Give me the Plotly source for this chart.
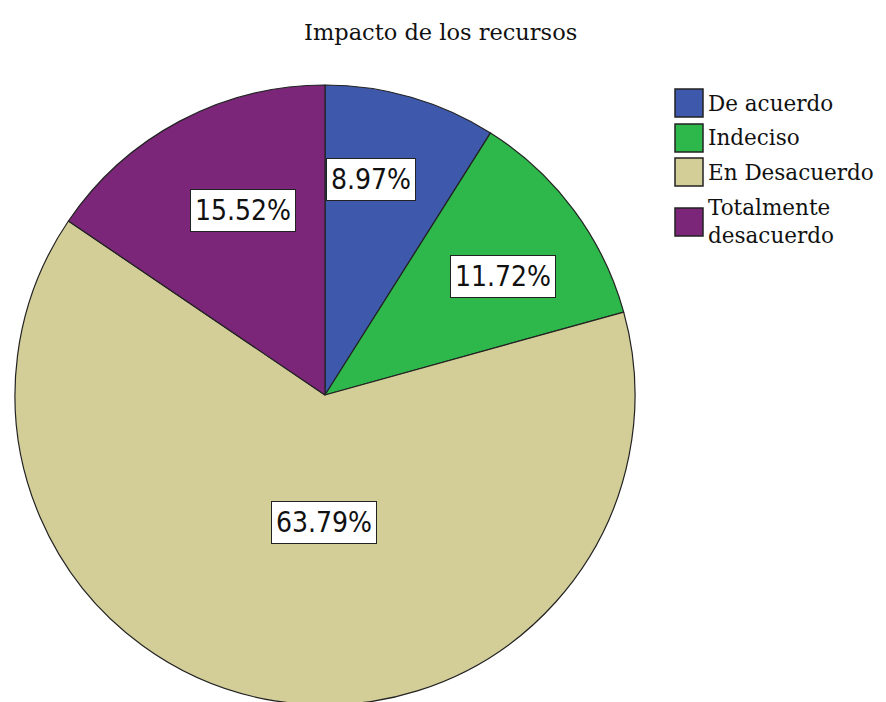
import math

import plotly.graph_objects as go

# data
categories = ["De acuerdo", "Indeciso", "En Desacuerdo", "Totalmente desacuerdo"]
legend_labels = ["De acuerdo", "Indeciso", "En Desacuerdo", "Totalmente<br>desacuerdo"]
counts = [26, 34, 185, 45]
colors = ["#3E58AC", "#2EB84B", "#D3CE98", "#7B2679"]

# styling / label placement (SPSS-like)
# the page body has an 8px margin, so figure coords = screen coords - OFF
OFF = 8
W, H = 878, 702
CX, CY, R = 325 - OFF, 395 - OFF, 310
label_radius = [0.71, 0.69, 0.41, 0.65]
label_shift = [-4, 3, -9, 4]
SERIF = "DejaVu Serif, Liberation Serif, serif"
NARROW = "Liberation Sans Narrow, DejaVu Sans Condensed, Arial Narrow, sans-serif"

fig = go.Figure(
    go.Pie(
        labels=categories,
        values=counts,
        sort=False,
        direction="clockwise",
        rotation=0,
        marker=dict(colors=colors, line=dict(color="#222222", width=1.2)),
        textinfo="none",
        hoverinfo="label+percent",
        showlegend=False,
        domain=dict(x=[(CX - R) / W, (CX + R) / W], y=[1 - (CY + R) / H, 1 - (CY - R) / H]),
    )
)

# percentage labels in boxes, placed from each slice's angle
total = sum(counts)
start = 0.0
annotations = []
for i, v in enumerate(counts):
    frac = v / total
    mid = start + frac * 180 + label_shift[i]
    start += frac * 360
    rr = R * label_radius[i]
    px = CX + rr * math.sin(math.radians(mid))
    py = CY - rr * math.cos(math.radians(mid))
    annotations.append(dict(
        x=px / W, y=1 - py / H, xref="paper", yref="paper",
        xanchor="center", yanchor="middle",
        text=f"{frac * 100:.2f}%", showarrow=False,
        font=dict(family=NARROW, size=28, color="#111111"),
        bgcolor="white", bordercolor="#222222", borderwidth=1, borderpad=4,
    ))

# legend drawn by hand so the boxes match the original size
shapes = []
legend_y = [103, 138, 172, 222]
for i, lab in enumerate(legend_labels):
    yc = legend_y[i] - OFF
    shapes.append(dict(
        type="rect", xref="paper", yref="paper",
        x0=(675 - OFF) / W, x1=(703 - OFF) / W, y0=1 - (yc + 14) / H, y1=1 - (yc - 14) / H,
        fillcolor=colors[i], line=dict(color="#222222", width=1.5),
    ))
    annotations.append(dict(
        x=(706 - OFF) / W, y=1 - yc / H, xref="paper", yref="paper",
        xanchor="left", yanchor="middle", align="left",
        text=lab, showarrow=False,
        font=dict(family=SERIF, size=21.5, color="#111111"),
    ))

annotations.append(dict(
    x=(440 - OFF) / W, y=1 - (32 - OFF) / H, xref="paper", yref="paper",
    xanchor="center", yanchor="middle",
    text="Impacto de los recursos", showarrow=False,
    font=dict(family=SERIF, size=22.5, color="#111111"),
))

fig.update_layout(
    width=W, height=H,
    margin=dict(l=0, r=0, t=0, b=0),
    paper_bgcolor="white", plot_bgcolor="white",
    annotations=annotations, shapes=shapes,
)

fig.write_html("out.html")
